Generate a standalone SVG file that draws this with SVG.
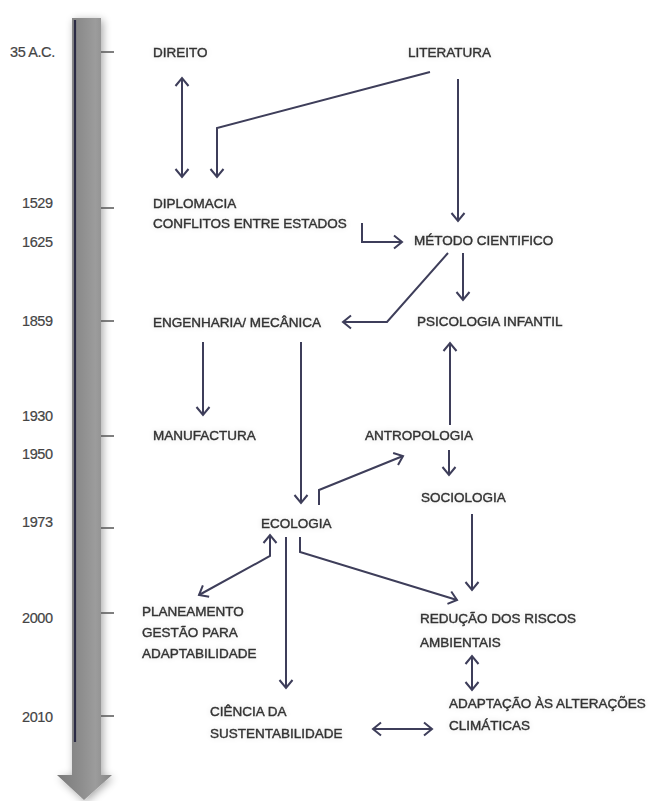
<svg xmlns="http://www.w3.org/2000/svg" width="657" height="801" viewBox="0 0 657 801">
<defs>
<linearGradient id="shaft" x1="0" y1="0" x2="1" y2="0">
<stop offset="0" stop-color="#7a7a7a"/>
<stop offset="0.45" stop-color="#8e8e8e"/>
<stop offset="0.7" stop-color="#9c9c9c"/>
<stop offset="1" stop-color="#858585"/>
</linearGradient>
<filter id="shadow" x="-50%" y="-5%" width="200%" height="110%">
<feGaussianBlur in="SourceAlpha" stdDeviation="4"/>
<feOffset dx="2" dy="2"/>
<feComponentTransfer><feFuncA type="linear" slope="0.35"/></feComponentTransfer>
<feMerge><feMergeNode/><feMergeNode in="SourceGraphic"/></feMerge>
</filter>
<filter id="glow" x="-10%" y="-40%" width="120%" height="180%">
<feGaussianBlur in="SourceAlpha" stdDeviation="3"/>
<feComponentTransfer><feFuncA type="linear" slope="0.12"/></feComponentTransfer>
<feMerge><feMergeNode/><feMergeNode in="SourceGraphic"/></feMerge>
</filter>
<marker id="chev" viewBox="-10 -8 12 16" markerWidth="12" markerHeight="16" refX="0" refY="0" orient="auto-start-reverse" markerUnits="userSpaceOnUse">
<path d="M-8,-6.5 L0,0 L-8,6.5" fill="none" stroke="#3e3e5a" stroke-width="2" stroke-linejoin="miter"/>
</marker>
<style>
.t{font-family:"Liberation Sans",Arial,sans-serif;font-size:13.5px;fill:#333;stroke:#333;stroke-width:0.4px;}
.y{font-family:"Liberation Sans",Arial,sans-serif;font-size:14.5px;fill:#444;letter-spacing:-0.4px;stroke:#444;stroke-width:0.2px;}
.c{fill:none;stroke:#3e3e5a;stroke-width:2;}
.a{marker-end:url(#chev);}
.b{marker-start:url(#chev);marker-end:url(#chev);}
.tick{stroke:#555;stroke-width:1.5;}
</style>
</defs>
<rect width="657" height="801" fill="#ffffff"/>
<g id="timeline">
<path d="M72,18 H101 V775 H112 L84,800 L57,775 H72 Z" fill="url(#shaft)" filter="url(#shadow)"/>
<line x1="75" y1="20" x2="75" y2="742" stroke="#2a2a44" stroke-width="2.2"/>
<g class="tick">
<line x1="101" y1="52" x2="114" y2="52"/>
<line x1="101" y1="208" x2="114" y2="208"/>
<line x1="101" y1="321" x2="114" y2="321"/>
<line x1="101" y1="436" x2="114" y2="436"/>
<line x1="101" y1="528" x2="114" y2="528"/>
<line x1="101" y1="613" x2="114" y2="613"/>
<line x1="101" y1="716" x2="114" y2="716"/>
</g>
<g class="y">
<text x="10" y="57">35 A.C.</text>
<text x="22" y="208">1529</text>
<text x="22" y="247">1625</text>
<text x="22" y="326">1859</text>
<text x="22" y="421">1930</text>
<text x="22" y="459">1950</text>
<text x="22" y="527">1973</text>
<text x="22" y="623">2000</text>
<text x="22" y="722">2010</text>
</g>
</g>
<g id="connectors">
<line class="c b" x1="182" y1="78" x2="182" y2="177"/>
<polyline class="c a" points="430,72 217,128 217,177"/>
<line class="c a" x1="458" y1="79" x2="458" y2="221"/>
<polyline class="c a" points="362,223 362,242 402,242"/>
<line class="c a" x1="463" y1="253" x2="463" y2="300"/>
<polyline class="c a" points="448,253 387,322 343,322"/>
<line class="c a" x1="203" y1="342" x2="203" y2="415"/>
<line class="c a" x1="301" y1="342" x2="301" y2="503"/>
<line class="c a" x1="450" y1="425" x2="450" y2="343"/>
<line class="c a" x1="449" y1="450" x2="449" y2="475"/>
<polyline class="c a" points="319,505 319,490 403,456"/>
<line class="c a" x1="472" y1="514" x2="472" y2="590"/>
<polyline class="c a" points="300,537 300,552 457,600"/>
<polyline class="c b" points="270,535 270,556 199,595"/>
<line class="c a" x1="286" y1="537" x2="286" y2="688"/>
<line class="c b" x1="472" y1="656" x2="472" y2="690"/>
<line class="c b" x1="373" y1="729" x2="432" y2="729"/>
</g>
<g filter="url(#glow)">
<g id="direito"><text class="t" x="153" y="57">DIREITO</text></g>
<g id="literatura"><text class="t" x="408" y="57">LITERATURA</text></g>
<g id="diplomacia"><text class="t" x="153" y="208">DIPLOMACIA</text><text class="t" x="153" y="228">CONFLITOS ENTRE ESTADOS</text></g>
<g id="metodo"><text class="t" x="414" y="245">MÉTODO CIENTIFICO</text></g>
<g id="engenharia"><text class="t" x="153" y="327">ENGENHARIA/ MECÂNICA</text></g>
<g id="psicologia"><text class="t" x="417" y="326">PSICOLOGIA INFANTIL</text></g>
<g id="manufactura"><text class="t" x="153" y="440">MANUFACTURA</text></g>
<g id="antropologia"><text class="t" x="365" y="440">ANTROPOLOGIA</text></g>
<g id="sociologia"><text class="t" x="421" y="502">SOCIOLOGIA</text></g>
<g id="ecologia"><text class="t" x="261" y="528">ECOLOGIA</text></g>
<g id="planeamento"><text class="t" x="142" y="616">PLANEAMENTO</text><text class="t" x="142" y="637">GESTÃO PARA</text><text class="t" x="142" y="658">ADAPTABILIDADE</text></g>
<g id="reducao"><text class="t" x="420" y="623">REDUÇÃO DOS RISCOS</text><text class="t" x="420" y="647">AMBIENTAIS</text></g>
<g id="ciencia"><text class="t" x="210" y="716">CIÊNCIA DA</text><text class="t" x="210" y="738">SUSTENTABILIDADE</text></g>
<g id="adaptacao"><text class="t" x="449" y="708">ADAPTAÇÃO ÀS ALTERAÇÕES</text><text class="t" x="449" y="730">CLIMÁTICAS</text></g>
</g>
</svg>
